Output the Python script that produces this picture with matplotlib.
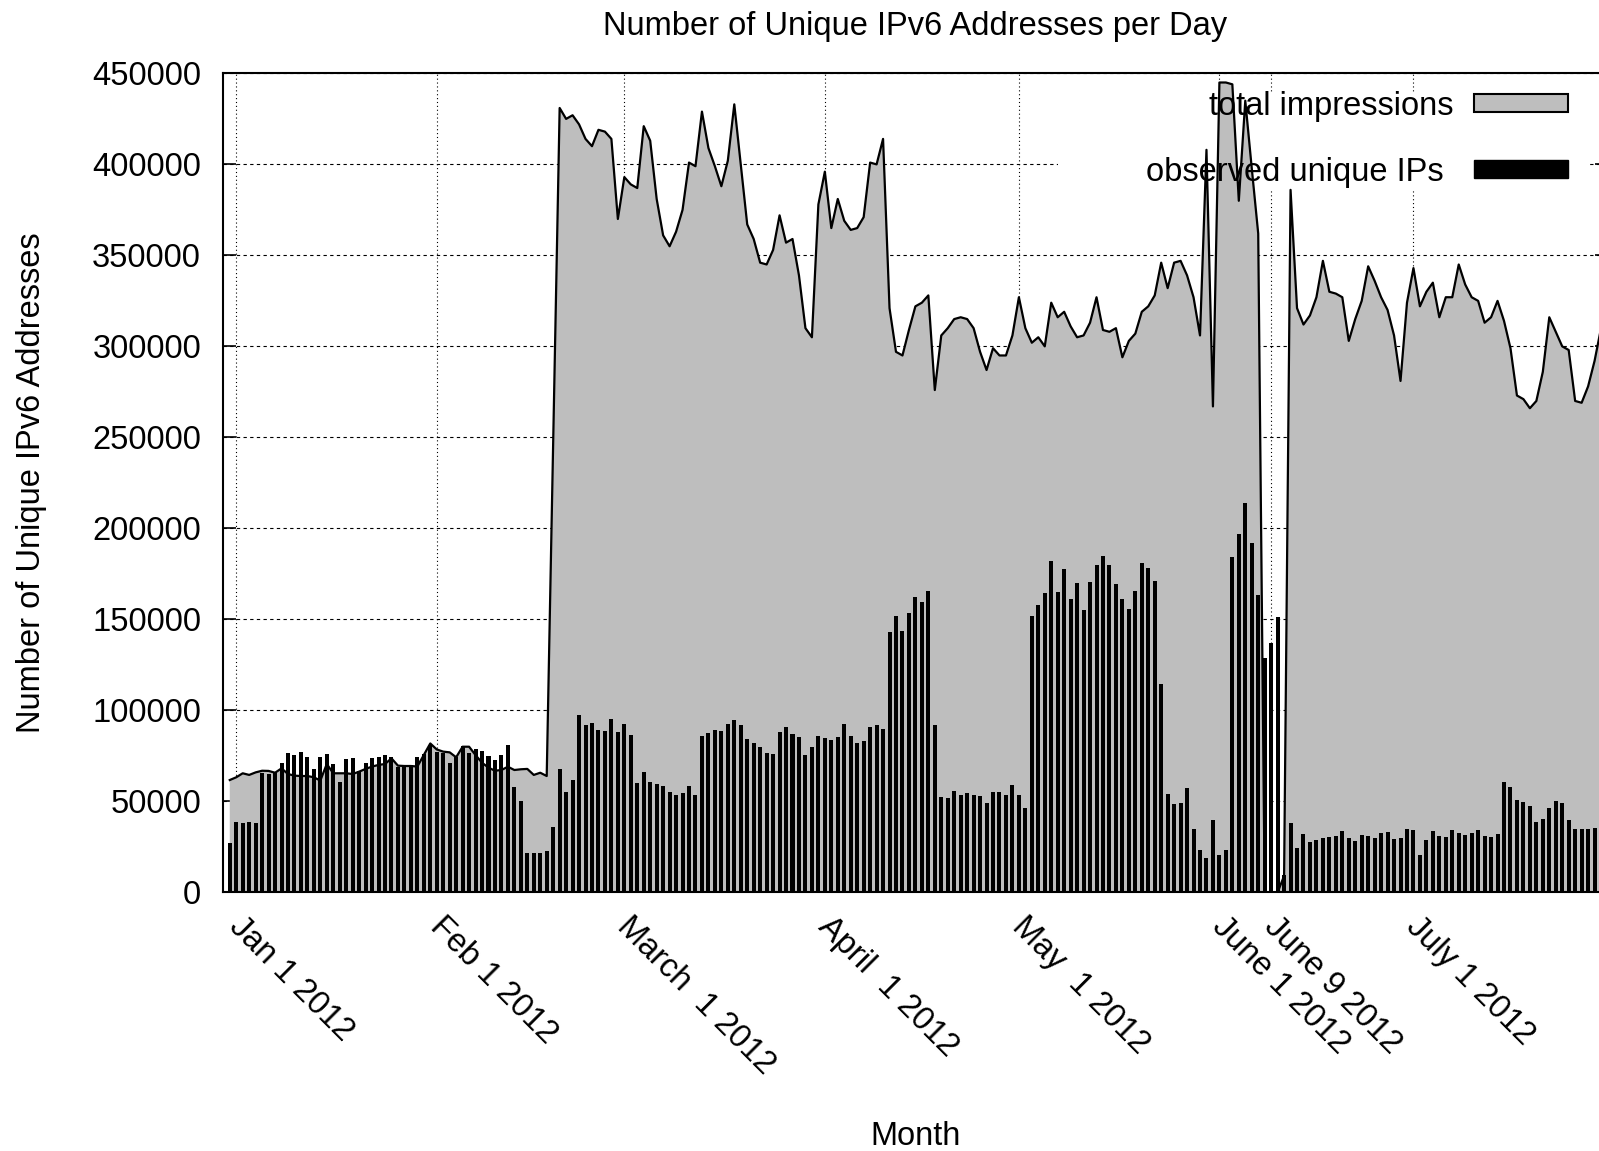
import datetime as dt
import matplotlib
matplotlib.use("Agg")
import matplotlib.pyplot as plt
import matplotlib.dates as mdates
from matplotlib.patches import Rectangle
from matplotlib.transforms import ScaledTranslation

# ---------------- data ----------------
first_day = dt.date(2011, 12, 31)

total_impressions = [
    61700, 63200, 65400, 64500, 65900, 66800, 66700, 65700, 68100, 65000,
    64100, 63900, 63900, 63200, 61400, 70500, 65400, 65400, 65400, 65000,
    66300, 67800, 69100, 70000, 70500, 73600, 69600, 69400, 69400, 69100,
    75400, 81800, 78500, 77300, 76900, 74200, 80000, 80000, 75400, 71200,
    68500, 66800, 67200, 69000, 67200, 67600, 67800, 64500, 65700, 63900,
    247000, 431000, 425000, 427000, 422000, 414000, 410000, 419000, 418000, 414000,
    370000, 393000, 389000, 387000, 421000, 413000, 381000, 361000, 355000, 363000,
    375000, 401000, 399000, 429000, 409000, 399000, 388000, 402000, 433000, 400000,
    367000, 359000, 346000, 345000, 353000, 372000, 357000, 359000, 339000, 310000,
    305000, 378000, 396000, 365000, 381000, 369000, 364000, 365000, 371000, 401000,
    400000, 414000,
    321000, 297000, 295000, 309000, 322000, 324000, 328000, 276000, 306000, 310000,
    315000, 316000, 315000, 310000, 297000, 287000, 299000, 295000, 295000, 306000,
    327000, 310000, 302000, 305000, 300000, 324000, 316000, 319000, 311000, 305000,
    306000, 313000, 327000, 309000, 308000, 310000, 294000, 303000, 307000, 319000,
    322000, 328000, 346000, 332000, 346000, 347000, 339000, 327000, 306000, 408000,
    267000, 445000, 445000, 444000, 380000, 435000, 398000, 362000, 0, 0,
    0, 9000, 386000, 321000, 312000, 317000, 327000, 347000, 330000, 329000,
    327000, 303000, 315000, 325000, 344000, 336000, 327000, 320000, 306000, 281000,
    324000, 343000, 322000, 330000, 335000, 316000, 327000, 327000, 345000, 334000,
    327000, 325000, 313000, 316000, 325000, 314000, 299000, 273000, 271000, 266000,
    270000, 286000, 316000, 308000, 300000, 298000, 270000, 269000, 278000, 292000,
    310000,
]

unique_ips = [
    27300, 38800, 38100, 38400, 38300, 65700, 64800, 66300, 71200, 76300,
    75400, 77300, 74500, 67600, 74500, 76000, 70300, 60600, 73100, 73600,
    66700, 70900, 73600, 74500, 75600, 74500, 68700, 70100, 69800, 74200,
    75800, 80900, 77300, 76700, 71200, 74200, 80400, 76300, 78500, 77800,
    74900, 72700, 75400, 80900, 57700, 50400, 21400, 21400, 21400, 22500,
    35700, 67900, 55200, 61600,
    97600, 91700, 93000, 89400, 88800, 95300, 87900, 92600, 86400, 60000,
    65900, 60600, 59400, 58500, 55000, 53500, 54400, 58500, 53500, 85800,
    87300, 89400, 88800, 92300, 94700, 91700, 84100, 82000, 79700, 76400,
    75900, 88200, 90800, 87000, 85500, 75600, 80000, 85800, 85000, 83500,
    85300, 92300, 85800, 82000, 82900, 90800, 91700, 90000,
    143000, 152000, 143500, 153500, 162300, 159500, 165500, 92000, 52600, 52000,
    55600, 53500, 54700, 53500, 53000, 49100, 55000, 55000, 53500, 58800,
    53500, 46200, 152000, 158000, 164300, 182300, 165200, 177600, 161400, 170200,
    155000, 170500, 180000, 185000, 180000, 169600, 161400, 155800, 165800, 181100,
    178200, 171100, 114500, 54000, 48500, 49200, 57100, 34600, 23200, 19000,
    39700, 20300, 23200, 184000, 197000, 214000, 192000, 163400, 128600, 136800,
    151100, 9400, 38200, 24100, 32300, 27600, 28500, 30000, 30200, 30900,
    33500, 30000, 28000, 31700, 30800, 29800, 32800, 33100, 29300, 29700,
    34600, 34100, 20500, 28700, 33700, 31100, 30600, 34400, 32400, 31500,
    32600, 34100, 30900, 30200, 32200, 60800, 58000, 50500, 49500, 47600,
    38500, 40500, 46100, 50300, 48900, 39900, 35000, 34600, 34600, 35200,
]

tick_dates = [dt.date(2012, 1, 1), dt.date(2012, 2, 1), dt.date(2012, 3, 1),
              dt.date(2012, 4, 1), dt.date(2012, 5, 1), dt.date(2012, 6, 1),
              dt.date(2012, 6, 9), dt.date(2012, 7, 1)]
tick_labels = ["Jan 1 2012", "Feb 1 2012", "March  1 2012", "April  1 2012",
               "May  1 2012", "June 1 2012", "June 9 2012", "July 1 2012"]
y_ticks = [0, 50000, 100000, 150000, 200000, 250000, 300000, 350000, 400000, 450000]
series_names = ["total impressions", "observed unique IPs"]

# ---------------- figure ----------------
plt.rcParams['font.family'] = ['Liberation Sans', 'DejaVu Sans']
FS = 23.5
W, H = 1599, 1151
L, R, T, B = 223.3, 1607.5, 73.4, 892.3

fig = plt.figure(figsize=(W / 100, H / 100), dpi=100)
ax = fig.add_axes([L / W, 1 - B / H, (R - L) / W, (B - T) / H])

days_total = [first_day + dt.timedelta(days=i) for i in range(len(total_impressions))]
days_unique = days_total[:len(unique_ips)]
x_tot = mdates.date2num(days_total)
x_uni = mdates.date2num(days_unique)

GRAY = '#bebebe'
ax.fill_between(x_tot, total_impressions, 0, facecolor=GRAY, edgecolor='none', zorder=2)
ax.plot(x_tot, total_impressions, color='black', lw=1.6, zorder=2.5)
ax.bar(x_uni, unique_ips, width=0.62, color='black', edgecolor='none', zorder=3)

ax.set_xlim(mdates.date2num(dt.date(2011, 12, 30)), mdates.date2num(dt.date(2012, 7, 31)))
ax.set_ylim(0, 450000)

# grid behind everything
ax.set_axisbelow(True)
ax.yaxis.grid(True, color='black', lw=0.8, linestyle=(0, (3, 3)))
ax.xaxis.grid(True, color='black', lw=0.8, linestyle=(0, (1, 2.5)))

# opaque key background (between grid and data)
ax.add_patch(Rectangle((0.603, 0.8588), 0.3822, 0.1185, transform=ax.transAxes,
                       facecolor='white', edgecolor='none', zorder=0.8))

for s in ax.spines.values():
    s.set_linewidth(1.5)
    s.set_zorder(5)

ax.set_yticks(y_ticks)
ax.set_yticklabels([str(v) for v in y_ticks])
ax.tick_params(axis='y', direction='in', length=9.5, width=1.2, left=True, right=True,
               labelsize=FS, pad=16)
ax.set_xticks(mdates.date2num(tick_dates))
ax.set_xticklabels(tick_labels, rotation=-45, ha='left', va='baseline',
                   rotation_mode='anchor')
ax.tick_params(axis='x', direction='in', length=9.5, width=1.2, top=False,
               labelsize=FS, pad=25.5)
shift = ScaledTranslation(-8.2 / 100, 0, fig.dpi_scale_trans)
for lab in ax.get_xticklabels():
    lab.set_transform(lab.get_transform() + shift)

ax.set_title('Number of Unique IPv6 Addresses per Day', fontsize=FS, pad=28)
ax.set_xlabel('Month', fontsize=FS, va='baseline')
ax.xaxis.set_label_coords(0.5, -0.309)
ax.set_ylabel('Number of Unique IPv6 Addresses', fontsize=FS, va='baseline')
ax.yaxis.set_label_coords(-0.1325, 0.5)

# key (gnuplot style: text then sample)
ax.text(0.8884, 0.9486, series_names[0], transform=ax.transAxes, ha='right',
        va='baseline', fontsize=FS, zorder=10)
ax.add_patch(Rectangle((0.9035, 0.9529), 0.0679, 0.022, transform=ax.transAxes,
                       facecolor=GRAY, edgecolor='black', lw=1.5, zorder=10))
ax.text(0.8819, 0.8680, series_names[1], transform=ax.transAxes, ha='right',
        va='baseline', fontsize=FS, zorder=10)
ax.add_patch(Rectangle((0.9035, 0.8723), 0.0679, 0.022, transform=ax.transAxes,
                       facecolor='black', edgecolor='black', lw=1.0, zorder=10))

fig.savefig('out.png', dpi=100)
